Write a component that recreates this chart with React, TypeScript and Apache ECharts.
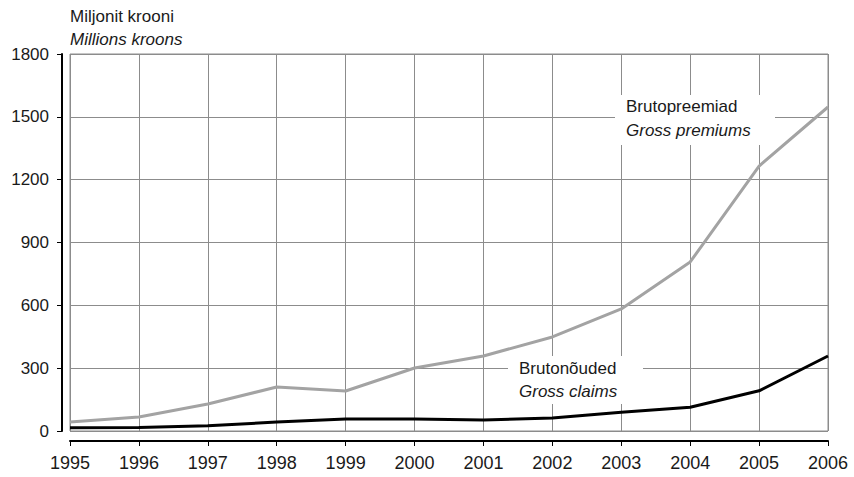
import React, { useEffect, useRef } from "react";
import * as echarts from "echarts";

const years = ["1995", "1996", "1997", "1998", "1999", "2000", "2001", "2002", "2003", "2004", "2005", "2006"];
const grossPremiums = [43, 67, 129, 210, 191, 301, 358, 449, 583, 807, 1265, 1547];
const grossClaims = [16, 17, 25, 43, 57, 57, 52, 62, 89, 113, 192, 358];
const yTicks = [0, 300, 600, 900, 1200, 1500, 1800];

const FONT = "'Liberation Sans', Arial, sans-serif";

export default function App() {
  const ref = useRef<HTMLDivElement>(null);
  useEffect(() => {
    if (!ref.current) return;
    const chart = echarts.init(ref.current, undefined, { renderer: "svg" });
    chart.setOption({
      animation: false,
      backgroundColor: "#ffffff",
      textStyle: { fontFamily: FONT },
      grid: {
        left: 70,
        right: 26,
        top: 54,
        bottom: 46,
        show: true,
        borderColor: "#8c8c8c",
        borderWidth: 1,
      },
      xAxis: {
        type: "category",
        data: years,
        boundaryGap: false,
        offset: 10,
        axisLine: { show: true, onZero: false, lineStyle: { color: "#000", width: 2 } },
        axisTick: { show: true, length: 5, lineStyle: { color: "#000", width: 1 } },
        axisLabel: { color: "#1a1a1a", fontSize: 18, margin: 13, fontFamily: FONT },
        splitLine: { show: true, lineStyle: { color: "#8c8c8c", width: 1 } },
      },
      yAxis: {
        type: "value",
        min: yTicks[0],
        max: yTicks[yTicks.length - 1],
        interval: 300,
        offset: 8,
        axisLine: { show: true, onZero: false, lineStyle: { color: "#000", width: 2 } },
        axisTick: { show: true, length: 5, lineStyle: { color: "#000", width: 1 } },
        axisLabel: {
          color: "#1a1a1a",
          fontSize: 17,
          margin: 13,
          fontFamily: FONT,
          formatter: (v: number) => String(v),
        },
        splitLine: { show: true, lineStyle: { color: "#8c8c8c", width: 1 } },
      },
      series: [
        {
          name: "Gross premiums",
          type: "line",
          data: grossPremiums,
          symbol: "none",
          lineStyle: { color: "#a3a3a3", width: 3 },
          itemStyle: { color: "#a3a3a3" },
          z: 3,
        },
        {
          name: "Gross claims",
          type: "line",
          data: grossClaims,
          symbol: "none",
          lineStyle: { color: "#000000", width: 3 },
          itemStyle: { color: "#000000" },
          z: 4,
        },
      ],
      graphic: [
        {
          type: "text",
          x: 70,
          y: 8,
          style: { text: "Miljonit krooni", font: `17px ${FONT}`, fill: "#1a1a1a" },
        },
        {
          type: "text",
          x: 70,
          y: 31,
          style: { text: "Millions kroons", font: `italic 17px ${FONT}`, fill: "#1a1a1a" },
        },
        {
          type: "rect",
          shape: { x: 615, y: 95, width: 160, height: 50 },
          style: { fill: "#ffffff" },
          z: 10,
        },
        {
          type: "text",
          x: 626,
          y: 98,
          style: { text: "Brutopreemiad", font: `17px ${FONT}`, fill: "#1a1a1a" },
          z: 11,
        },
        {
          type: "text",
          x: 626,
          y: 122,
          style: { text: "Gross premiums", font: `italic 17px ${FONT}`, fill: "#1a1a1a" },
          z: 11,
        },
        {
          type: "rect",
          shape: { x: 508, y: 356, width: 135, height: 48 },
          style: { fill: "#ffffff" },
          z: 10,
        },
        {
          type: "text",
          x: 519,
          y: 360,
          style: { text: "Brutonõuded", font: `17px ${FONT}`, fill: "#1a1a1a" },
          z: 11,
        },
        {
          type: "text",
          x: 519,
          y: 383,
          style: { text: "Gross claims", font: `italic 17px ${FONT}`, fill: "#1a1a1a" },
          z: 11,
        },
      ],
    });
    return () => chart.dispose();
  }, []);
  return <div ref={ref} style={{ width: 854, height: 477, position: "absolute", left: 0, top: 0 }} />;
}
